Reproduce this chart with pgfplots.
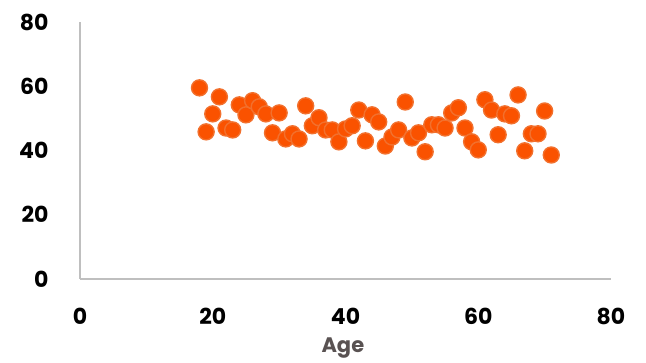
\documentclass[border=0pt]{standalone}
\usepackage{fontspec}
\setmainfont{Poppins}
\usepackage{pgfplots}
\pgfplotsset{compat=1.18}
\definecolor{dotfill}{RGB}{250,82,0}
\definecolor{dotedge}{RGB}{242,112,45}
\definecolor{axgray}{RGB}{191,191,191}
\definecolor{labgray}{RGB}{89,82,82}
\begin{document}
\begin{tikzpicture}
\begin{axis}[
  scale only axis,
  width=531pt, height=257pt,
  xmin=0, xmax=80, ymin=0, ymax=80,
  xtick={0,20,40,60,80}, ytick={0,20,40,60,80},
  axis x line=bottom, axis y line=left,
  axis line style={-, axgray, line width=1.6pt},
  major tick length=0pt,
  /pgf/number format/assume math mode=true,
  tick label style={font=\fontsize{22}{26}\selectfont\bfseries, black},
  yticklabel style={xshift=-28pt},
  xticklabel style={yshift=-26pt},
  xlabel={Age},
  xlabel style={font=\fontsize{21}{25}\selectfont\bfseries, text=labgray,
    at={(axis description cs:0.495,-0.268)}, anchor=center},
  clip=false,
]
\addplot[only marks, mark=*, mark size=8pt,
  mark options={fill=dotfill, draw=dotedge, line width=1.4pt}]
coordinates {
(18,59.5)(19,45.8)(20,51.4)(21,56.7)(22,47.0)(23,46.4)(24,54.2)(25,51.1)
(26,55.5)(27,53.6)(28,51.4)(29,45.5)(30,51.7)(31,43.6)(32,45.2)(33,43.6)
(34,53.9)(35,47.7)(36,50.2)(37,46.4)(38,46.4)(39,42.7)(40,46.7)(41,47.7)
(42,52.6)(43,43.0)(44,51.1)(45,48.9)(46,41.4)(47,44.2)(48,46.4)(49,55.1)
(50,43.9)(51,45.5)(52,39.6)(53,48.0)(54,48.0)(55,47.0)(56,51.7)(57,53.3)
(58,47.0)(59,42.7)(60,40.2)(61,55.8)(62,52.6)(63,44.9)(64,51.4)(65,50.8)
(66,57.3)(67,39.9)(68,45.2)(69,45.2)(70,52.3)(71,38.6)
};
\path (axis description cs:-0.1507,-0.3268) rectangle (axis description cs:1.0659,1.0856);
\end{axis}
\end{tikzpicture}
\end{document}
